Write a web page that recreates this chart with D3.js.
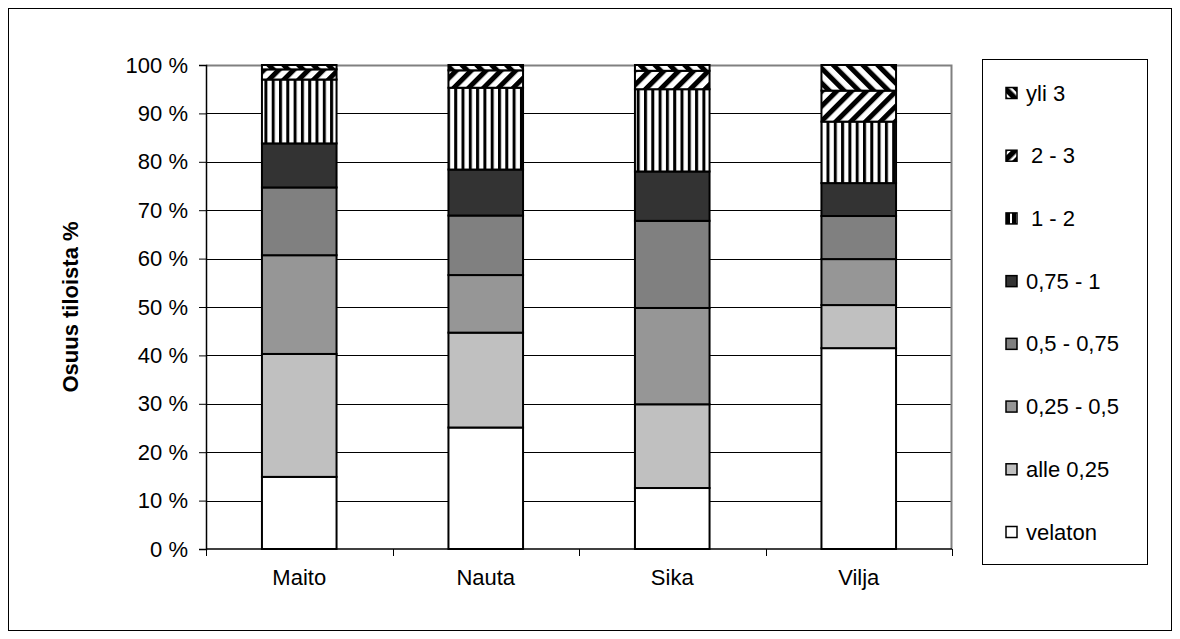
<!DOCTYPE html>
<html>
<head>
<meta charset="utf-8">
<script src="https://cdn.jsdelivr.net/npm/d3@7/dist/d3.min.js"></script>
<style>
	body { margin: 0; background: #fff; }
	text { font-family: "Liberation Sans", Arial, sans-serif; fill: #000; }
</style>
</head>
<body>
<div id="app"></div>
<script>
//////////////////////////// data /////////////////////////////////////////

const categories = ["Maito", "Nauta", "Sika", "Vilja"];
const seriesNames = ["velaton", "alle 0,25", "0,25 - 0,5", "0,5 - 0,75", "0,75 - 1", "1 - 2", "2 - 3", "yli 3"];

// share of farms %, per category, bottom to top
const velaton = [14.9, 25.1, 12.6, 41.5];
const alle025 = [25.4, 19.6, 17.3, 8.9];
const v025_05 = [20.4, 11.9, 19.9, 9.5];
const v05_075 = [14.0, 12.3, 18.0, 8.9];
const v075_1 = [9.1, 9.5, 10.2, 6.8];
const v1_2 = [13.2, 16.9, 17.0, 12.7];
const v2_3 = [2.1, 3.6, 3.8, 6.4];
const yli3 = [0.9, 1.1, 1.2, 5.3];

const yTicks = [0, 10, 20, 30, 40, 50, 60, 70, 80, 90, 100];
const yTitle = "Osuus tiloista %";

const createChart = () => {
	const seriesValues = [velaton, alle025, v025_05, v05_075, v075_1, v1_2, v2_3, yli3];
	const data = categories.map((c, i) => {
		const row = { cat: c };
		seriesNames.forEach((s, j) => (row[s] = seriesValues[j][i]));
		return row;
	});

	//////////////////////////// sizes ///////////////////////////////////
	let dimensions = {
		width: 1180,
		height: 639,
		margin: { top: 65, right: 228, bottom: 90, left: 206 }
	};
	dimensions.boundedWidth = dimensions.width - dimensions.margin.left - dimensions.margin.right;
	dimensions.boundedHeight = dimensions.height - dimensions.margin.top - dimensions.margin.bottom;

	const wrapper = d3.select("#app").append("svg")
		.attr("width", dimensions.width)
		.attr("height", dimensions.height);

	// outer frame
	wrapper.append("rect")
		.attr("x", 8.5).attr("y", 8.5)
		.attr("width", 1163).attr("height", 622)
		.attr("fill", "#fff").attr("stroke", "#000").attr("stroke-width", 1);

	//////////////////////////// patterns ///////////////////////////////////
	const defs = wrapper.append("defs");
	const stripes = (id, size, bar, angle) => {
		const p = defs.append("pattern")
			.attr("id", id)
			.attr("patternUnits", "userSpaceOnUse")
			.attr("width", size).attr("height", size)
			.attr("patternTransform", `rotate(${angle})`);
		p.append("rect").attr("width", size).attr("height", size).attr("fill", "#fff");
		p.append("rect").attr("width", bar).attr("height", size).attr("fill", "#000");
	};
	stripes("vert", 7.3, 3, 0);
	stripes("up", 10.5, 5, 45);
	stripes("down", 10.5, 5, -45);
	// denser versions for the small legend swatches
	stripes("vertS", 6, 4, 0);
	stripes("upS", 8, 5.5, 45);
	stripes("downS", 8, 5.5, -45);

	const fills = ["#ffffff", "#c0c0c0", "#969696", "#808080", "#333333", "url(#vert)", "url(#up)", "url(#down)"];
	const cScale = d3.scaleOrdinal().domain(seriesNames).range(fills);
	const swatchFill = (d) => cScale(d).replace(/\)$/, "S)").replace(/^#.*S\)$/, cScale(d));

	const bounds = wrapper.append("g")
		.attr("transform", `translate(${dimensions.margin.left},${dimensions.margin.top})`);

	//////////////////////////// scales ///////////////////////////////////////
	const xScale = d3.scaleBand()
		.domain(categories)
		.range([0, dimensions.boundedWidth])
		.paddingInner(0.6)
		.paddingOuter(0.3);

	const yScale = d3.scaleLinear()
		.domain([0, 100])
		.range([dimensions.boundedHeight, 0]);

	//////////////////////////// grid ///////////////////////////////////////
	bounds.append("g")
		.selectAll("line")
		.data(yTicks.filter((d) => d > 0 && d < 100))
		.enter()
		.append("line")
		.attr("x1", 0).attr("x2", dimensions.boundedWidth)
		.attr("y1", (d) => Math.round(yScale(d)) + 0.5)
		.attr("y2", (d) => Math.round(yScale(d)) + 0.5)
		.attr("stroke", "#000").attr("stroke-width", 1);

	// plot area border top/right (grey)
	bounds.append("path")
		.attr("d", `M0,0.5H${dimensions.boundedWidth - 0.5}V${dimensions.boundedHeight}`)
		.attr("fill", "none").attr("stroke", "#808080").attr("stroke-width", 2);

	//////////////////////////// bars ///////////////////////////////////////
	const stack = d3.stack().keys(seriesNames)(data);

	bounds.append("g")
		.selectAll("g")
		.data(stack)
		.enter()
		.append("g")
		.attr("fill", (d) => cScale(d.key))
		.selectAll("rect")
		.data((d) => d)
		.enter()
		.append("rect")
		.attr("x", (d) => xScale(d.data.cat))
		.attr("width", xScale.bandwidth())
		.attr("y", (d) => yScale(d[1]))
		.attr("height", (d) => yScale(d[0]) - yScale(d[1]))
		.attr("stroke", "#000")
		.attr("stroke-width", 2);

	//////////////////////////// axes ///////////////////////////////////////
	const yAxis = d3.axisLeft(yScale)
		.tickValues(yTicks)
		.tickFormat((d) => d + " %")
		.tickSize(7)
		.tickPadding(11);

	const yAxisG = bounds.append("g").call(yAxis);
	yAxisG.select(".domain").attr("stroke", "#000").attr("stroke-width", 1.5);
	yAxisG.selectAll(".tick line").attr("stroke", "#000");
	yAxisG.selectAll("text")
		.style("font-family", "'Liberation Sans', Arial, sans-serif")
		.style("font-size", "22px");

	// x axis: ticks at category boundaries
	const xAxisG = bounds.append("g")
		.attr("transform", `translate(0,${dimensions.boundedHeight})`);
	xAxisG.append("line")
		.attr("x1", 0).attr("x2", dimensions.boundedWidth)
		.attr("stroke", "#000").attr("stroke-width", 1.5);
	xAxisG.selectAll(".xtick")
		.data(d3.range(categories.length + 1))
		.enter()
		.append("line")
		.attr("x1", (i) => Math.round(i * xScale.step()) + 0.5)
		.attr("x2", (i) => Math.round(i * xScale.step()) + 0.5)
		.attr("y1", 0).attr("y2", 7)
		.attr("stroke", "#000");
	xAxisG.selectAll(".xlabel")
		.data(categories)
		.enter()
		.append("text")
		.attr("x", (d) => xScale(d) + xScale.bandwidth() / 2)
		.attr("y", 36)
		.attr("text-anchor", "middle")
		.style("font-size", "22px")
		.text((d) => d);

	// y title
	wrapper.append("text")
		.attr("transform", `translate(78,${dimensions.margin.top + dimensions.boundedHeight / 2}) rotate(-90)`)
		.attr("text-anchor", "middle")
		.style("font-size", "22px")
		.style("font-weight", "bold")
		.text(yTitle);

	//////////////////////////// legend ///////////////////////////////////////
	const legend = wrapper.append("g");
	legend.append("rect")
		.attr("x", 982.5).attr("y", 59.5)
		.attr("width", 165).attr("height", 505)
		.attr("fill", "#fff").attr("stroke", "#000").attr("stroke-width", 1);

	const legendItems = seriesNames.slice().reverse();
	const lScale = d3.scalePoint().domain(legendItems).range([93, 532]);

	const items = legend.selectAll(".item")
		.data(legendItems)
		.enter()
		.append("g")
		.attr("transform", (d) => `translate(1006,${lScale(d)})`);
	items.append("rect")
		.attr("x", 0).attr("y", -5.5)
		.attr("width", 11).attr("height", 11)
		.attr("fill", (d) => (cScale(d).startsWith("url") ? swatchFill(d) : cScale(d)))
		.attr("stroke", "#000").attr("stroke-width", 1.5);
	items.append("text")
		.attr("x", (d) => (d === "2 - 3" || d === "1 - 2" ? 25 : 20))
		.attr("y", 7.5)
		.style("font-size", "22px")
		.text((d) => d);
};

createChart();
</script>
</body>
</html>
